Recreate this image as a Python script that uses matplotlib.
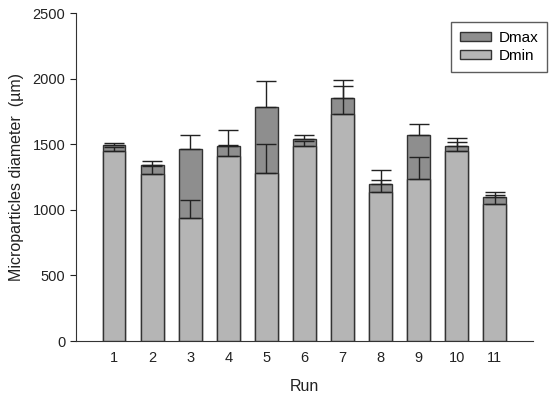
import numpy as np
import matplotlib
matplotlib.use("Agg")
from matplotlib import pyplot as plt

plt.rcParams['font.family'] = ['Liberation Sans', 'DejaVu Sans']

runs = np.arange(1, 12)
dmax = [1492, 1341, 1466, 1486, 1786, 1537, 1855, 1199, 1570, 1489, 1095]
dmax_err = [17, 33, 106, 120, 198, 35, 134, 107, 84, 58, 41]
dmin = [1450, 1270, 937, 1410, 1280, 1486, 1733, 1138, 1232, 1450, 1044]
dmin_err = [28, 66, 140, 84, 221, 36, 211, 89, 173, 69, 66]

fig = plt.figure(figsize=(5.5, 3.94), dpi=100)
ax = fig.add_axes([0.138, 0.1345, 0.831, 0.8325])

w = 0.6
ax.bar(runs, dmax, w, color='#8e8e8e', edgecolor='#333333', linewidth=1, label='Dmax', zorder=2)
ax.bar(runs, dmin, w, color='#b5b5b5', edgecolor='#333333', linewidth=1, label='Dmin', zorder=3)
ax.errorbar(runs, dmax, yerr=[np.zeros(len(runs)), dmax_err], fmt='none',
            ecolor='#222222', elinewidth=1, capsize=7, capthick=1, zorder=4)
ax.errorbar(runs, dmin, yerr=[np.zeros(len(runs)), dmin_err], fmt='none',
            ecolor='#222222', elinewidth=1, capsize=7, capthick=1, zorder=4)

ax.set_xlim(0, 12)
ax.set_ylim(0, 2500)
ax.set_yticks([0, 500, 1000, 1500, 2000, 2500])
ax.set_xticks(runs)
ax.tick_params(axis='x', length=0, pad=7, labelsize=10.5, colors='#222222')
ax.tick_params(axis='y', length=4, direction='out', labelsize=10.5, colors='#222222')
for s in ['top', 'right']:
    ax.spines[s].set_visible(False)
for s in ['left', 'bottom']:
    ax.spines[s].set_color('#333333')

ax.set_xlabel('Run', fontsize=11.5, labelpad=10, color='#222222')
ax.set_ylabel('Microparticles diameter  (µm)', fontsize=11.5, labelpad=6, color='#222222')

leg = fig.legend(loc='upper right', bbox_to_anchor=(0.995, 0.944), borderaxespad=0,
                 fancybox=False, edgecolor='#333333', fontsize=11, handlelength=2.0,
                 handleheight=0.5, handletextpad=0.5, borderpad=0.6, labelspacing=0.25)
leg.get_frame().set_linewidth(1)

fig.savefig('out.png', dpi=100)
